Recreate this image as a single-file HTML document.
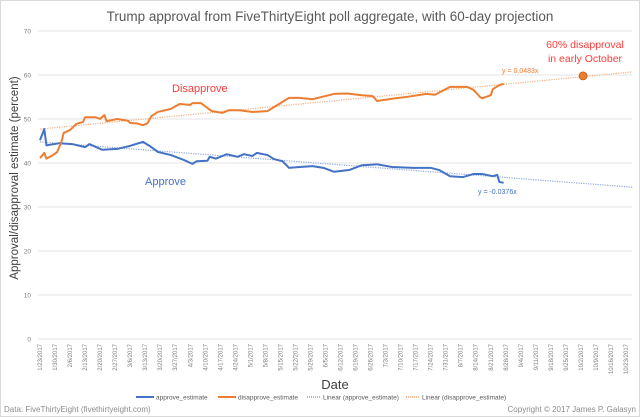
<!DOCTYPE html>
<html><head><meta charset="utf-8"><style>
body{margin:0;background:#fff}
svg{display:block;font-family:"Liberation Sans",sans-serif}
</style></head><body>
<svg width="640" height="417" viewBox="0 0 640 417">
<rect x="0.5" y="0.5" width="639" height="416" fill="#fff" stroke="#d9d9d9"/>
<text x="330" y="21" text-anchor="middle" font-size="13.5" fill="#595959">Trump approval from FiveThirtyEight poll aggregate, with 60-day projection</text>
<g id="grid"></g>
<g id="xlabels"></g>
<g id="series"></g>
<text transform="translate(18,178) rotate(-90)" text-anchor="middle" font-size="11.5" fill="#404040">Approval/disapproval estimate (percent)</text>
<text x="335" y="389" text-anchor="middle" font-size="13" fill="#404040">Date</text>
<text x="172" y="92" font-size="11" fill="#ff3b3b">Disapprove</text>
<text x="145" y="185" font-size="11" fill="#4472c4">Approve</text>
<text x="585" y="48" text-anchor="middle" font-size="10.5" fill="#ff3b3b">60% disapproval</text>
<text x="585" y="62" text-anchor="middle" font-size="10.5" fill="#ff3b3b">in early October</text>
<text x="502" y="73" font-size="7" fill="#ed7d31">y = 0.0483x</text>
<text x="478" y="194" font-size="7" fill="#4472c4">y = -0.0376x</text>
<g font-size="6.5" fill="#595959">
<line x1="136" y1="397" x2="154" y2="397" stroke="#4472c4" stroke-width="2"/><text x="156" y="399.5">approve_estimate</text>
<line x1="218" y1="397" x2="236" y2="397" stroke="#ed7d31" stroke-width="2"/><text x="238" y="399.5">disapprove_estimate</text>
<line x1="307" y1="397" x2="321" y2="397" stroke="#4472c4" stroke-dasharray="1,1"/><text x="323" y="399.5">Linear (approve_estimate)</text>
<line x1="406" y1="397" x2="420" y2="397" stroke="#ed7d31" stroke-dasharray="1,1"/><text x="422" y="399.5">Linear (disapprove_estimate)</text>
</g>
<text x="4" y="412" font-size="8" fill="#8c8c8c">Data: FiveThirtyEight (fivethirtyeight.com)</text>
<text x="636" y="412" text-anchor="end" font-size="8" fill="#8c8c8c">Copyright © 2017 James P. Galasyn</text>
</svg>
<script>
const yTicks=[0,10,20,30,40,50,60,70];
const xLabels=["1/23/2017","1/30/2017","2/6/2017","2/13/2017","2/20/2017","2/27/2017","3/6/2017","3/13/2017","3/20/2017","3/27/2017","4/3/2017","4/10/2017","4/17/2017","4/24/2017","5/1/2017","5/8/2017","5/15/2017","5/22/2017","5/29/2017","6/5/2017","6/12/2017","6/19/2017","6/26/2017","7/3/2017","7/10/2017","7/17/2017","7/24/2017","7/31/2017","8/7/2017","8/14/2017","8/21/2017","8/28/2017","9/4/2017","9/11/2017","9/18/2017","9/25/2017","10/2/2017","10/9/2017","10/16/2017","10/23/2017"];
const approveDays=[0,2,3,9,15,21,23,29,36,42,48,51,55,61,67,71,73,78,79,82,87,92,95,99,101,106,109,113,116,121,127,132,137,144,150,157,164,174,182,186,191,197,202,206,211,213,214,216];
const approveVals=[45.2,47.7,44,44.5,44.3,43.6,44.3,43,43.2,43.9,44.8,43.9,42.5,41.8,40.7,39.8,40.4,40.5,41.4,41,42,41.4,42,41.6,42.3,41.8,40.9,40.4,38.9,39.1,39.3,38.9,38,38.4,39.5,39.7,39.1,38.9,38.9,38.4,37,36.8,37.5,37.5,37,37.3,35.7,35.5];
const disDays=[0,2,3,6,8,10,11,14,17,20,21,26,28,30,31,36,41,42,45,48,50,52,55,61,65,70,71,75,78,80,85,88,93,99,106,109,113,116,121,127,137,143,150,155,157,164,172,180,184,191,199,202,205,206,210,211,214,216];
const disVals=[41.1,42.3,41,41.8,42.5,44.8,46.8,47.5,48.9,49.3,50.4,50.4,50,50.9,49.5,50,49.6,49.1,49,48.6,49,50.7,51.6,52.3,53.4,53.2,53.6,53.6,52.5,51.8,51.4,52,52,51.6,51.8,52.7,53.9,54.8,54.8,54.5,55.7,55.8,55.4,55.2,54.1,54.6,55.1,55.7,55.5,57.3,57.3,56.6,55,54.7,55.4,56.8,57.7,58];
const trendDays=[0,276];
const approveTrend=[44.8,34.5];
const disTrend=[47.7,60.7];
const projectionDay=[253];
const projectionVal=[59.8];

const NS="http://www.w3.org/2000/svg";
const X0=40,X1=626,DMAX=273,Y0=339,YPER=4.4;
const xs=d=>X0+d*(X1-X0)/DMAX;
const ys=v=>Y0-v*YPER;
function mk(tag,attrs,parent){const e=document.createElementNS(NS,tag);for(const k in attrs)e.setAttribute(k,attrs[k]);parent.appendChild(e);return e;}
const grid=document.getElementById('grid');
yTicks.forEach(t=>{
 const l=mk('line',{x1:38,x2:632,y1:ys(t),y2:ys(t),stroke:'#e6e6e6','stroke-width':1},grid);
 
 
 const tx=mk('text',{x:31,y:ys(t)+2.5,'text-anchor':'end','font-size':6.5,fill:'#7f7f7f'},grid);
 tx.textContent=t;
 
 
});
const xl=document.getElementById('xlabels');
xLabels.forEach((s,i)=>{
 const x=xs(i*7);
 const tx=mk('text',{transform:`translate(${x+2},344) rotate(-90)`,'text-anchor':'end','font-size':6,fill:'#7f7f7f'},xl);
 tx.textContent=s;
 
 
});
const g=document.getElementById('series');
function poly(days,vals,attrs,name){
 const p=mk('polyline',Object.assign({points:days.map((d,i)=>xs(d)+','+ys(vals[i])).join(' '),fill:'none'},attrs),g);
 
 
}
poly(trendDays,approveTrend,{stroke:'#8faadc','stroke-width':1.2,'stroke-dasharray':'1.2,1.2'},'approve-trendline');
poly(trendDays,disTrend,{stroke:'#f4b183','stroke-width':1.2,'stroke-dasharray':'1.2,1.2'},'disapprove-trendline');
poly(approveDays,approveVals,{stroke:'#4472c4','stroke-width':2,'stroke-linejoin':'round'},'approve-line');
poly(disDays,disVals,{stroke:'#ed7d31','stroke-width':2,'stroke-linejoin':'round'},'disapprove-line');
const dot=mk('circle',{cx:xs(projectionDay[0]),cy:ys(projectionVal[0]),r:4,fill:'#ed7d31',stroke:'#c55a11','stroke-width':0.8},g);


</script>
</body></html>
